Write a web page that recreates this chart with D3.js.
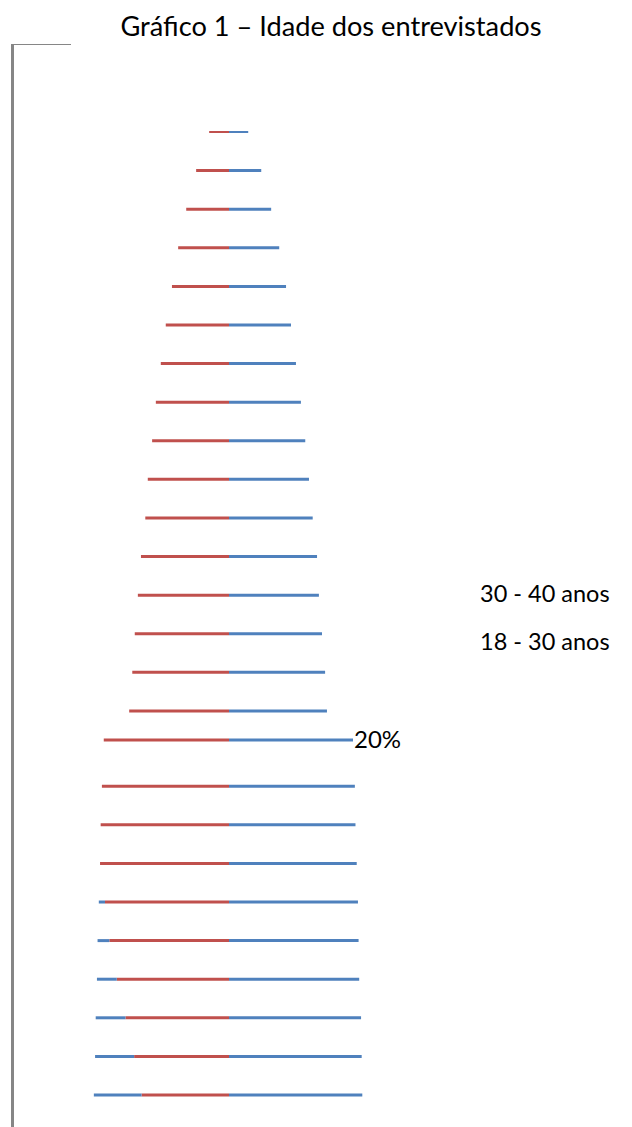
<!DOCTYPE html>
<html>
<head>
<meta charset="utf-8">
<script src="https://cdn.jsdelivr.net/npm/d3@7"></script>
<style>
  html, body { margin: 0; padding: 0; background: #fff; }
  svg { display: block; }
  text { font-family: Lato, "Open Sans", sans-serif; fill: #000; }
</style>
</head>
<body>
<svg id="chart" width="632" height="1127"></svg>
<script>
// Stacked layers of the age chart: each layer is split at the centre,
// the 18 - 30 share to the left (red) and the 30 - 40 share to the right (blue).
const layers     = d3.range(26);
const depth      = [0, 1, 2, 3, 4, 5, 6, 7, 8, 9, 10, 11, 12, 13, 14, 15,
                    15.75, 16.95, 17.95, 18.95, 19.95, 20.95, 21.95, 22.95, 23.95, 24.95];
const leftShare  = [3.2, 5.3, 6.9, 8.2, 9.2, 10.2, 11.0, 11.8, 12.4, 13.1, 13.5, 14.2, 14.7,
                    15.2, 15.6, 16.1, 20.2, 20.5, 20.7, 20.8, 21.0, 21.2, 21.3, 21.5, 21.6, 21.8];
const rightShare = [3.1, 5.2, 6.8, 8.1, 9.2, 10.0, 10.8, 11.6, 12.3, 12.9, 13.5, 14.2, 14.5,
                    15.0, 15.5, 15.8, 20.0, 20.3, 20.4, 20.6, 20.8, 20.9, 21.0, 21.3, 21.4, 21.5];
// blue wrap-around visible at the far left of the lowest layers
const leftWrap   = [0, 0, 0, 0, 0, 0, 0, 0, 0, 0, 0, 0, 0, 0, 0, 0,
                    0, 0, 0, 0, 1.0, 1.9, 3.2, 4.8, 6.3, 7.7];
const seriesNames = ["30 - 40 anos", "18 - 30 anos"];
const valueLabel = { layer: 16, text: "20%" };

const colors = { "30 - 40 anos": "#4F81BD", "18 - 30 anos": "#C0504D" };

const svg = d3.select("#chart");

// value scale centred on the split point
const x = d3.scaleLinear().domain([-20, 20]).range([229 - 124, 229 + 124]);
const y = d3.scaleLinear().domain([0, 24.95]).range([132, 1095]);

// frame lines
svg.append("line").attr("x1", 12.5).attr("x2", 12.5).attr("y1", 44).attr("y2", 1127)
  .attr("stroke", "#868686").attr("stroke-width", 3);
svg.append("line").attr("x1", 11).attr("x2", 71).attr("y1", 44.5).attr("y2", 44.5)
  .attr("stroke", "#868686").attr("stroke-width", 1);

// title
svg.append("text").attr("x", 331).attr("y", 36).attr("text-anchor", "middle")
  .style("font-size", "27.2px").text("Gráfico 1 – Idade dos entrevistados");

const g = svg.append("g");
const rows = layers.map(i => ({
  i, yv: y(depth[i]),
  l: leftShare[i], r: rightShare[i], w: leftWrap[i]
}));

const sw = i => (i === 0 ? 2 : 3);

// left (18 - 30) segments
g.selectAll("line.red").data(rows).join("line").attr("class", "red")
  .attr("x1", d => x(-d.l + d.w)).attr("x2", x(0))
  .attr("y1", d => d.yv).attr("y2", d => d.yv)
  .attr("stroke", colors["18 - 30 anos"]).attr("stroke-width", d => sw(d.i));

// blue wrap on the left
g.selectAll("line.wrap").data(rows.filter(d => d.w > 0)).join("line").attr("class", "wrap")
  .attr("x1", d => x(-d.l)).attr("x2", d => x(-d.l + d.w))
  .attr("y1", d => d.yv).attr("y2", d => d.yv)
  .attr("stroke", colors["30 - 40 anos"]).attr("stroke-width", 3);

// right (30 - 40) segments
g.selectAll("line.blue").data(rows).join("line").attr("class", "blue")
  .attr("x1", x(0)).attr("x2", d => x(d.r))
  .attr("y1", d => d.yv).attr("y2", d => d.yv)
  .attr("stroke", colors["30 - 40 anos"]).attr("stroke-width", d => sw(d.i));

// value label at the end of its layer
const lr = rows[valueLabel.layer];
svg.append("text").attr("x", x(lr.r) + 1).attr("y", lr.yv + 8)
  .style("font-size", "24px").text(valueLabel.text);

// legend entries
svg.selectAll("text.legend").data(seriesNames).join("text").attr("class", "legend")
  .attr("x", 480).attr("y", (d, i) => 602 + i * 48)
  .style("font-size", "23.5px").text(d => d);
</script>
</body>
</html>
